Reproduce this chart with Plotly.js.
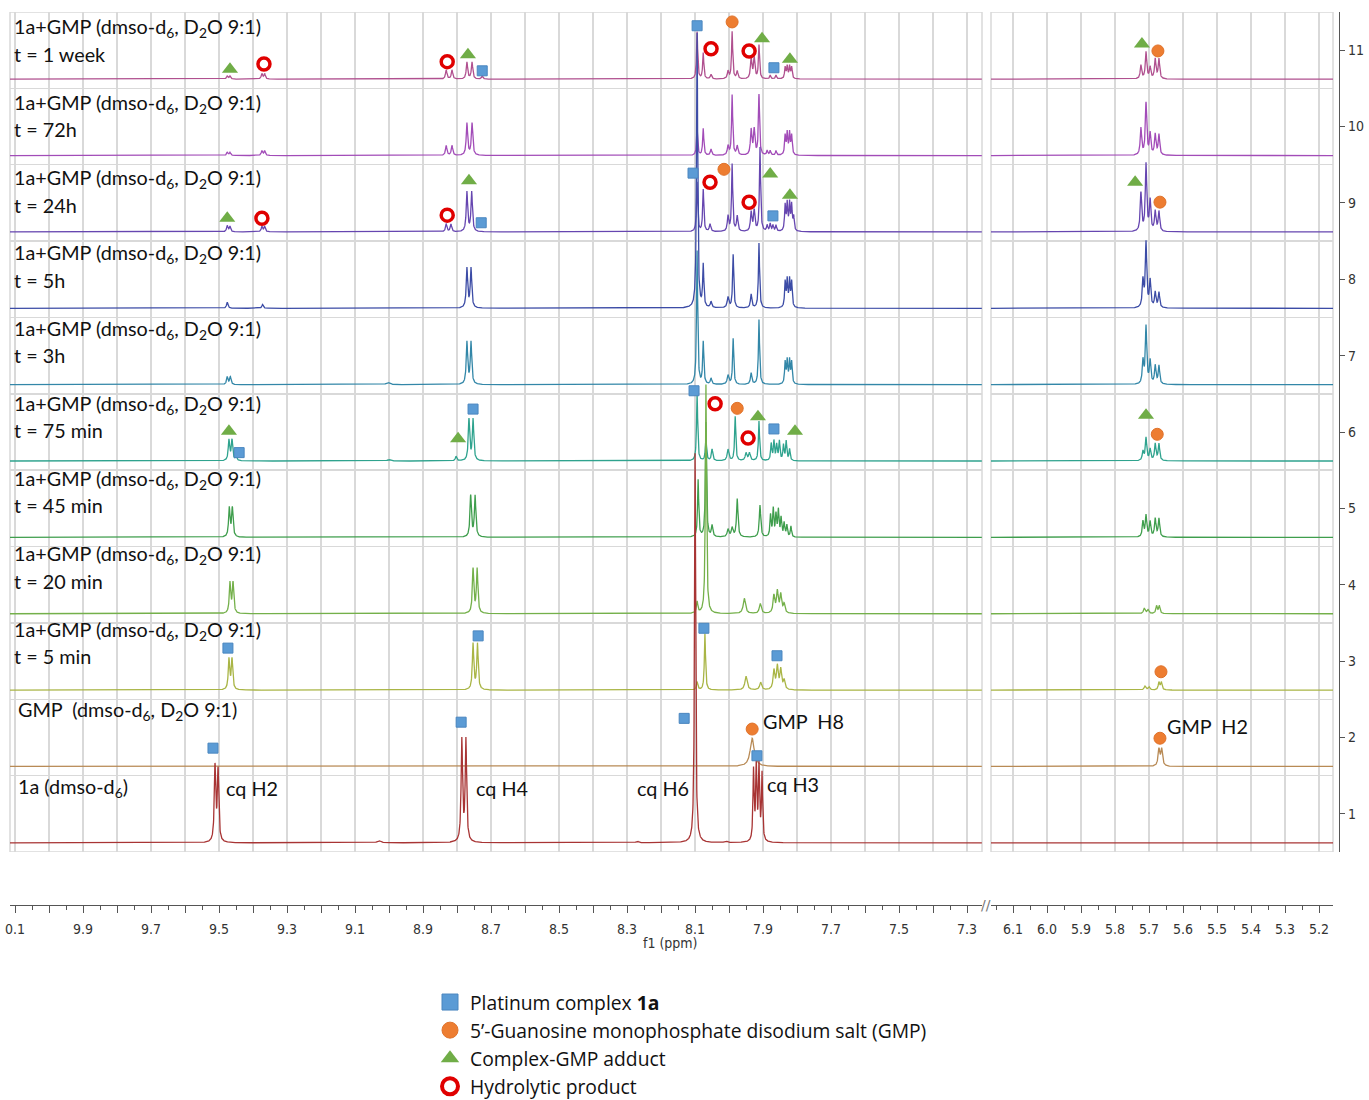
<!DOCTYPE html>
<html>
<head>
<meta charset="utf-8">
<script src="https://cdn.plot.ly/plotly-3.0.1.min.js"></script>
<style>html,body{margin:0;padding:0;background:#fff;}</style>
</head>
<body>
<div id="chart" style="width:1369px;height:1100px;"></div>
<script>
// Stacked 1H NMR spectra of complex 1a with GMP, bottom row first.
const rowNames = ['1a', 'GMP', '5 min', '20 min', '45 min', '75 min', '3h', '5h', '24h', '72h', '1 week'];
const rowColors = ['#a83434', '#b88a55', '#a9b545', '#74b04a', '#3f9e4d', '#2fa38e',
                   '#3387a8', '#3c4ca6', '#6646b0', '#a24cb8', '#b0508f'];

// Peak tables: [shift (ppm), height (row units), line width (ppm)]
const peaks1a = [
  [9.512, 0.98, 0.005], [9.503, 0.93, 0.005], [9.030, 0.03, 0.012],
  [8.786, 1.33, 0.005], [8.774, 1.33, 0.005], [8.270, 0.02, 0.010],
  [8.100, 5.10, 0.004], [8.010, 0.02, 0.010],
  [7.928, 0.92, 0.004], [7.920, 0.97, 0.004], [7.912, 0.97, 0.004], [7.903, 0.88, 0.004]
];
const peaksGMP = [
  [7.932, 0.37, 0.014], [5.671, 0.22, 0.006], [5.663, 0.22, 0.006]
];
const peaks5min = [
  [9.471, 0.40, 0.005], [9.462, 0.40, 0.005], [8.753, 0.60, 0.005], [8.740, 0.60, 0.005],
  [8.094, 0.10, 0.005], [8.071, 0.74, 0.004], [7.950, 0.18, 0.008], [7.907, 0.10, 0.007],
  [7.868, 0.25, 0.006], [7.858, 0.30, 0.006], [7.848, 0.26, 0.006], [7.838, 0.12, 0.006],
  [5.712, 0.05, 0.006], [5.700, 0.04, 0.006], [5.671, 0.10, 0.005], [5.664, 0.10, 0.005]
];
const peaks20min = [
  [9.468, 0.40, 0.005], [9.459, 0.40, 0.005], [8.753, 0.58, 0.005], [8.741, 0.58, 0.005],
  [8.094, 0.15, 0.005], [8.068, 3.00, 0.004], [7.955, 0.20, 0.008], [7.908, 0.13, 0.007],
  [7.868, 0.23, 0.006], [7.858, 0.28, 0.006], [7.848, 0.24, 0.006], [7.838, 0.12, 0.006],
  [5.714, 0.07, 0.006], [5.703, 0.05, 0.006], [5.678, 0.10, 0.005], [5.670, 0.10, 0.005]
];
const peaks45min = [
  [9.470, 0.38, 0.005], [9.461, 0.38, 0.005], [8.760, 0.54, 0.005], [8.747, 0.54, 0.005],
  [8.091, 0.75, 0.004], [8.068, 1.50, 0.004], [8.050, 0.15, 0.005],
  [8.003, 0.10, 0.006], [7.991, 0.12, 0.006], [7.976, 0.50, 0.005], [7.909, 0.42, 0.005],
  [7.878, 0.28, 0.004], [7.870, 0.36, 0.004], [7.862, 0.28, 0.004], [7.855, 0.34, 0.004],
  [7.847, 0.24, 0.004], [7.838, 0.18, 0.004], [7.830, 0.15, 0.004], [7.818, 0.14, 0.004],
  [5.718, 0.20, 0.005], [5.709, 0.28, 0.005], [5.697, 0.20, 0.005], [5.682, 0.24, 0.005], [5.671, 0.24, 0.005]
];
const peaks75min = [
  [9.471, 0.27, 0.005], [9.462, 0.27, 0.005], [9.450, 0.05, 0.005], [9.000, 0.02, 0.012],
  [8.803, 0.06, 0.005], [8.765, 0.54, 0.005], [8.753, 0.54, 0.005],
  [8.094, 0.88, 0.004], [8.068, 0.30, 0.004], [8.050, 0.15, 0.005], [8.003, 0.15, 0.006],
  [7.982, 0.58, 0.004], [7.950, 0.10, 0.006], [7.940, 0.10, 0.006], [7.912, 0.52, 0.004],
  [7.876, 0.22, 0.004], [7.868, 0.25, 0.004], [7.860, 0.20, 0.004], [7.852, 0.25, 0.004],
  [7.840, 0.20, 0.004], [7.832, 0.25, 0.004], [7.822, 0.15, 0.004],
  [5.718, 0.12, 0.005], [5.709, 0.30, 0.005], [5.697, 0.15, 0.005], [5.682, 0.22, 0.005], [5.671, 0.22, 0.005]
];
const peaks3h = [
  [9.476, 0.10, 0.005], [9.467, 0.10, 0.005], [9.003, 0.03, 0.012],
  [8.771, 0.55, 0.005], [8.759, 0.55, 0.005],
  [8.094, 1.75, 0.004], [8.076, 0.55, 0.004], [8.053, 0.08, 0.005], [8.003, 0.12, 0.006],
  [7.988, 0.60, 0.004], [7.935, 0.15, 0.005], [7.912, 0.85, 0.004],
  [7.835, 0.28, 0.004], [7.829, 0.30, 0.004], [7.822, 0.30, 0.004], [7.816, 0.28, 0.004],
  [5.718, 0.30, 0.005], [5.709, 0.75, 0.005], [5.697, 0.30, 0.005], [5.682, 0.24, 0.005], [5.671, 0.24, 0.005]
];
const peaks5h = [
  [9.476, 0.08, 0.005], [9.372, 0.05, 0.005],
  [8.771, 0.52, 0.005], [8.759, 0.52, 0.005],
  [8.094, 3.60, 0.004], [8.076, 0.55, 0.004], [8.053, 0.08, 0.005], [8.003, 0.14, 0.006],
  [7.988, 0.70, 0.004], [7.935, 0.18, 0.005], [7.912, 0.85, 0.004],
  [7.835, 0.33, 0.004], [7.829, 0.35, 0.004], [7.822, 0.35, 0.004], [7.816, 0.33, 0.004],
  [5.718, 0.35, 0.005], [5.709, 0.85, 0.005], [5.697, 0.35, 0.005], [5.682, 0.20, 0.005], [5.671, 0.20, 0.005]
];
const peaks24h = [
  [9.476, 0.08, 0.005], [9.468, 0.07, 0.005], [9.374, 0.07, 0.005], [9.366, 0.07, 0.005],
  [8.832, 0.10, 0.005], [8.818, 0.10, 0.005], [8.771, 0.52, 0.005], [8.757, 0.52, 0.005],
  [8.094, 0.65, 0.004], [8.076, 0.55, 0.004], [8.056, 0.10, 0.005], [8.003, 0.20, 0.005],
  [7.991, 0.88, 0.004], [7.976, 0.20, 0.005], [7.935, 0.25, 0.005], [7.926, 0.27, 0.005],
  [7.909, 1.10, 0.004], [7.888, 0.08, 0.004], [7.879, 0.10, 0.004], [7.871, 0.08, 0.004], [7.862, 0.08, 0.004],
  [7.835, 0.33, 0.004], [7.829, 0.35, 0.004], [7.822, 0.35, 0.004], [7.816, 0.33, 0.004], [7.810, 0.18, 0.004],
  [5.724, 0.50, 0.005], [5.709, 0.88, 0.005], [5.697, 0.40, 0.005], [5.682, 0.26, 0.005], [5.671, 0.26, 0.005]
];
const peaks72h = [
  [9.476, 0.04, 0.005], [9.468, 0.04, 0.005], [9.374, 0.06, 0.005], [9.366, 0.06, 0.005],
  [8.832, 0.13, 0.005], [8.815, 0.13, 0.005], [8.771, 0.42, 0.005], [8.756, 0.42, 0.005],
  [8.094, 0.35, 0.004], [8.076, 0.35, 0.004], [8.053, 0.08, 0.005], [8.003, 0.12, 0.005],
  [7.991, 0.79, 0.004], [7.976, 0.12, 0.005], [7.935, 0.33, 0.005], [7.926, 0.33, 0.005],
  [7.912, 0.79, 0.004], [7.888, 0.06, 0.004], [7.879, 0.06, 0.004], [7.862, 0.06, 0.004],
  [7.835, 0.25, 0.004], [7.829, 0.28, 0.004], [7.822, 0.28, 0.004], [7.816, 0.25, 0.004],
  [5.724, 0.35, 0.005], [5.709, 0.68, 0.005], [5.697, 0.28, 0.005], [5.682, 0.27, 0.005], [5.671, 0.27, 0.005]
];
const peaks1week = [
  [9.476, 0.04, 0.005], [9.468, 0.04, 0.005], [9.374, 0.07, 0.005], [9.366, 0.07, 0.005],
  [8.832, 0.12, 0.005], [8.815, 0.12, 0.005], [8.771, 0.22, 0.005], [8.756, 0.22, 0.005], [8.726, 0.04, 0.005],
  [8.094, 0.62, 0.004], [8.076, 0.34, 0.004], [8.053, 0.06, 0.005], [8.003, 0.10, 0.005],
  [7.991, 0.62, 0.004], [7.976, 0.10, 0.005], [7.935, 0.27, 0.005], [7.926, 0.27, 0.005],
  [7.912, 0.44, 0.004], [7.879, 0.05, 0.004], [7.862, 0.05, 0.004],
  [7.835, 0.15, 0.004], [7.829, 0.16, 0.004], [7.822, 0.16, 0.004], [7.816, 0.15, 0.004],
  [5.724, 0.18, 0.005], [5.709, 0.35, 0.005], [5.697, 0.15, 0.005], [5.682, 0.26, 0.005], [5.671, 0.26, 0.005]
];
const rowPeaks = [peaks1a, peaksGMP, peaks5min, peaks20min, peaks45min, peaks75min,
                  peaks3h, peaks5h, peaks24h, peaks72h, peaks1week];

// Peak assignments: [shift (ppm), stacked y]
const complexLeft = [[8.094, 11.32], [8.726, 10.73], [7.868, 10.77], [8.106, 9.39], [8.729, 8.74], [7.871, 8.83],
  [8.103, 6.54], [8.753, 6.30], [9.441, 5.73], [7.868, 6.04], [9.474, 3.17], [8.738, 3.33], [8.074, 3.43],
  [7.859, 3.07], [9.518, 1.86], [8.788, 2.20], [8.132, 2.25], [7.918, 1.76]];
const gmpLeft = [[7.991, 11.37], [8.015, 9.44], [7.976, 6.31], [7.932, 2.11]];
const gmpRight = [[5.674, 10.99], [5.668, 9.01], [5.676, 5.97], [5.665, 2.86], [5.668, 1.99]];
const adductLeft = [[9.468, 10.75], [8.768, 10.94], [7.903, 11.15], [7.821, 10.88], [9.476, 8.80], [8.765, 9.29],
  [7.879, 9.38], [7.821, 9.10], [9.471, 6.01], [8.797, 5.91], [7.915, 6.20], [7.806, 6.01]];
const adductRight = [[5.721, 11.08], [5.741, 9.27], [5.709, 6.22]];
const hydrolyticLeft = [[9.368, 10.82], [8.829, 10.85], [8.053, 11.02], [7.941, 10.99], [9.374, 8.80], [8.829, 8.84],
  [8.056, 9.27], [7.941, 9.01], [8.041, 6.37], [7.944, 5.92]];

const legendNames = ['Platinum complex <b>1a</b>', '5’-Guanosine monophosphate disodium salt (GMP)',
                     'Complex-GMP adduct', 'Hydrolytic product'];

const leftTickPos = [10.1, 9.9, 9.7, 9.5, 9.3, 9.1, 8.9, 8.7, 8.5, 8.3, 8.1, 7.9, 7.7, 7.5, 7.3];
const leftTickText = ['0.1', '9.9', '9.7', '9.5', '9.3', '9.1', '8.9', '8.7', '8.5', '8.3', '8.1', '7.9', '7.7', '7.5', '7.3'];
const rightTickPos = [6.1, 6.0, 5.9, 5.8, 5.7, 5.6, 5.5, 5.4, 5.3, 5.2];
const rightTickText = ['6.1', '6.0', '5.9', '5.8', '5.7', '5.6', '5.5', '5.4', '5.3', '5.2'];
const rowTicks = [1, 2, 3, 4, 5, 6, 7, 8, 9, 10, 11];

// ---------------------------------------------------------------
const LEFT_RANGE = [10.115, 7.256];
const RIGHT_RANGE = [6.165, 5.159];
const BASE = 0.62;
const STEP = 0.0005;

function grid(range) {
  const hi = Math.max(range[0], range[1]), lo = Math.min(range[0], range[1]);
  const out = [];
  for (let v = hi; v >= lo; v -= STEP) out.push(+v.toFixed(5));
  return out;
}
function spectrum(xs, peaks, offset) {
  return xs.map(x => {
    let s = offset;
    for (const [p, h, w] of peaks) {
      const d = (x - p) / (w / 2);
      s += h / (1 + d * d);
    }
    return s;
  });
}

const gridL = grid(LEFT_RANGE), gridR = grid(RIGHT_RANGE);
const traces = [];
for (let k = rowNames.length - 1; k >= 0; k--) {
  const line = {color: rowColors[k], width: 1.3};
  traces.push({type: 'scatter', mode: 'lines', x: gridL, y: spectrum(gridL, rowPeaks[k], k + BASE),
    xaxis: 'x', yaxis: 'y', line, hoverinfo: 'skip', showlegend: false, name: rowNames[k]});
  traces.push({type: 'scatter', mode: 'lines', x: gridR, y: spectrum(gridR, rowPeaks[k], k + BASE),
    xaxis: 'x2', yaxis: 'y', line, hoverinfo: 'skip', showlegend: false, name: rowNames[k]});
}

const markerStyles = [
  {symbol: 'square', size: 10, color: '#5b9bd5', line: {color: '#4a86bf', width: 1}},
  {symbol: 'circle', size: 12, color: '#ed7d31', line: {color: '#e0722a', width: 1}},
  {symbol: 'triangle-up', size: 14, color: '#70ad47', line: {color: '#70ad47', width: 0}},
  {symbol: 'circle', size: 12, color: '#ffffff', line: {color: '#e00000', width: 3.5}}
];
const markerSets = [
  [[complexLeft, 'x']],
  [[gmpLeft, 'x'], [gmpRight, 'x2']],
  [[adductLeft, 'x'], [adductRight, 'x2']],
  [[hydrolyticLeft, 'x']]
];
markerSets.forEach((sets, i) => {
  sets.forEach(([pts, ax]) => {
    traces.push({type: 'scatter', mode: 'markers', x: pts.map(p => p[0]), y: pts.map(p => p[1]),
      xaxis: ax, yaxis: 'y', marker: markerStyles[i], hoverinfo: 'skip', showlegend: false});
  });
});
// legend entries
markerStyles.forEach((m, i) => {
  const big = Object.assign({}, m, {size: i === 2 ? 20 : 17, line: Object.assign({}, m.line, {width: i === 3 ? 4 : m.line.width})});
  traces.push({type: 'scatter', mode: 'markers', x: [null], y: [null], xaxis: 'x', yaxis: 'y',
    marker: big, name: legendNames[i], showlegend: true});
});

// ---------------------------------------------------------------
const W = 1369, H = 1100, ML = 10, MR = 30, MT = 12, MB = 195;
const PW = W - ML - MR, PH = H - MT - MB;
const px2paperX = px => (px - ML) / PW;
const px2paperY = py => (H - MB - py) / PH;
const gridColor = '#d9d9d9';
const axisColor = '#555555';
const tickFont = {family: 'DejaVu Sans Condensed, DejaVu Sans, sans-serif', size: 14, color: '#333'};
const labelFont = {family: 'Lato, Open Sans, sans-serif', size: 19.8, color: '#111'};

function withMidTicks(pos) {
  const v = [];
  for (let i = 0; i < pos.length; i++) {
    v.push(pos[i]);
    if (i < pos.length - 1) v.push(+((pos[i] + pos[i + 1]) / 2).toFixed(3));
  }
  return v;
}
const leftVals = withMidTicks(leftTickPos);
const leftText = leftVals.map(v => {
  const i = leftTickPos.findIndex(p => Math.abs(p - v) < 1e-6);
  return i >= 0 ? leftTickText[i] : ' ';
});

const xCommon = {
  anchor: 'free', position: 0, showgrid: true, gridcolor: gridColor, gridwidth: 1.5,
  zeroline: false, showline: true, linecolor: axisColor, linewidth: 1.2,
  ticks: 'outside', ticklen: 7, tickcolor: axisColor, tickwidth: 1, tickfont: tickFont,
  tickmode: 'array', fixedrange: true, ticklabelstandoff: 4,
  minor: {tickmode: 'linear', tick0: 0, dtick: 0.05, ticks: 'outside', ticklen: 4, tickcolor: axisColor, showgrid: false}
};
const ydom0 = px2paperY(852);

const annotations = [];
// sample labels: two lines per time point, stacked from the top row down
const LABEL_TOP = 28, LABEL_STEP = 75.25, LABEL_GAP = 26;
for (let k = 2; k < rowNames.length; k++) {
  const py = LABEL_TOP + (rowNames.length - 1 - k) * LABEL_STEP;
  annotations.push({xref: 'paper', yref: 'paper', x: px2paperX(12), y: px2paperY(py), xanchor: 'left', yanchor: 'middle',
    text: '1a+GMP (dmso-d<sub>6</sub>, D<sub>2</sub>O 9:1)', showarrow: false, font: labelFont});
  annotations.push({xref: 'paper', yref: 'paper', x: px2paperX(12), y: px2paperY(py + LABEL_GAP), xanchor: 'left', yanchor: 'middle',
    text: 't = ' + rowNames[k], showarrow: false, font: labelFont});
}
annotations.push({xref: 'paper', yref: 'y', x: px2paperX(16), y: 2.35, xanchor: 'left', yanchor: 'middle',
  text: 'GMP  (dmso-d<sub>6</sub>, D<sub>2</sub>O 9:1)', showarrow: false, font: labelFont});
annotations.push({xref: 'paper', yref: 'y', x: px2paperX(16), y: 1.34, xanchor: 'left', yanchor: 'middle',
  text: '1a (dmso-d<sub>6</sub>)', showarrow: false, font: labelFont});
// peak labels
const peakLabels = [
  ['cq H2', 'x', 9.485, 1.34, 'left'], ['cq H4', 'x', 8.750, 1.34, 'left'], ['cq H6', 'x', 8.112, 1.34, 'right'],
  ['cq H3', 'x', 7.894, 1.39, 'left'], ['GMP  H8', 'x', 7.906, 2.22, 'left'], ['GMP  H2', 'x2', 5.653, 2.15, 'left']
];
peakLabels.forEach(([t, ax, x, y, xa]) => annotations.push({xref: ax, yref: 'y', x, y, xanchor: xa, yanchor: 'middle',
  text: t, showarrow: false, font: labelFont}));
// axis break and axis title
annotations.push({xref: 'paper', yref: 'paper', x: px2paperX(986), y: 0, xanchor: 'center', yanchor: 'middle',
  text: '//', showarrow: false, font: {family: 'DejaVu Sans', size: 14, color: '#777'}});
annotations.push({xref: 'paper', yref: 'paper', x: px2paperX(670), y: px2paperY(943), xanchor: 'center', yanchor: 'middle',
  text: 'f1 (ppm)', showarrow: false, font: tickFont});

const shapes = ['x', 'x2'].map(ax => ({type: 'rect', xref: ax + ' domain', yref: 'y', x0: 0, x1: 1, y0: 0.5, y1: 11.5,
  line: {color: gridColor, width: 1.5}, layer: 'below'}));

const layout = {
  width: W, height: H, margin: {l: ML, r: MR, t: MT, b: MB, autoexpand: false},
  paper_bgcolor: '#ffffff', plot_bgcolor: '#ffffff',
  xaxis: Object.assign({}, xCommon, {domain: [0, px2paperX(982)], range: LEFT_RANGE,
    tickvals: leftVals, ticktext: leftText}),
  xaxis2: Object.assign({}, xCommon, {domain: [px2paperX(991), px2paperX(1333)], range: RIGHT_RANGE,
    tickvals: rightTickPos, ticktext: rightTickText}),
  yaxis: {domain: [ydom0, 1], range: [0.5, 11.5], side: 'right', anchor: 'free', position: 1,
    tickmode: 'array', tickvals: rowTicks, ticks: 'outside', ticklen: 5, tickcolor: axisColor,
    showline: true, linecolor: axisColor, linewidth: 1.2, showgrid: false, zeroline: false, tickfont: tickFont,
    fixedrange: true,
    minor: {tickmode: 'linear', tick0: 0.5, dtick: 1, ticks: '', showgrid: true, gridcolor: gridColor, gridwidth: 1.5}},
  showlegend: true,
  legend: {x: px2paperX(430), y: px2paperY(983), xanchor: 'left', yanchor: 'top',
    font: {family: 'Open Sans, Lato, sans-serif', size: 19.3, color: '#111'},
    itemsizing: 'trace', bgcolor: 'rgba(0,0,0,0)'},
  annotations, shapes
};

Plotly.newPlot('chart', traces, layout, {staticPlot: true, displayModeBar: false});
</script>
</body>
</html>
